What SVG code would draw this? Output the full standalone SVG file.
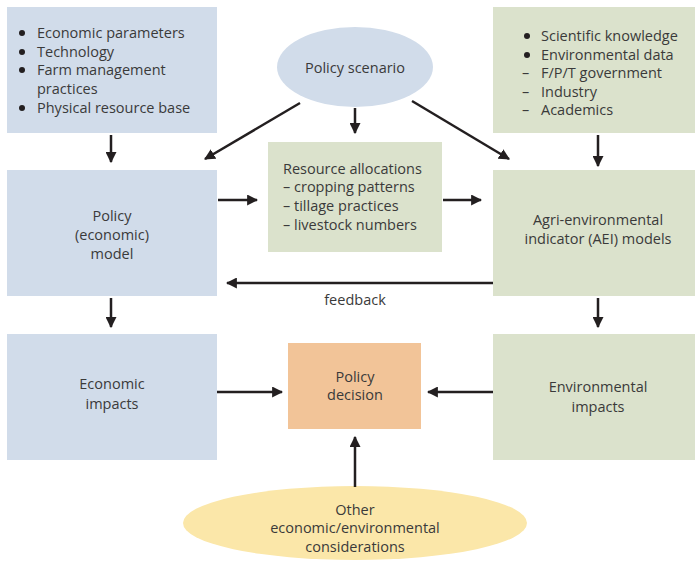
<svg xmlns="http://www.w3.org/2000/svg" width="695" height="562" viewBox="0 0 695 562">
<defs>
<style>
.blue{fill:#d1dcea}
.green{fill:#dbe2cc}
.t{font-family:"Open Sans","Liberation Sans",sans-serif;font-size:14.5px;fill:#3a3a3a}
.c{text-anchor:middle}
.ln{stroke:#231f20;stroke-width:2.5;fill:none;marker-end:url(#ah)}
</style>
<marker id="ah" viewBox="0 0 10 10" refX="9" refY="5" markerWidth="4.4" markerHeight="4.4" orient="auto" markerUnits="strokeWidth">
<path d="M0,0 L10,5 L0,10 z" fill="#231f20"/>
</marker>
</defs>
<rect width="695" height="562" fill="#ffffff"/>
<g id="inputs-econ">
<rect class="blue" x="7" y="7" width="210" height="126"/>
<g fill="#231f20"><circle cx="22" cy="33" r="3"/><circle cx="22" cy="52" r="3"/><circle cx="22" cy="70" r="3"/><circle cx="22" cy="108" r="3"/></g>
<text class="t" x="37" y="38">Economic parameters</text>
<text class="t" x="37" y="57">Technology</text>
<text class="t" x="37" y="75">Farm management</text>
<text class="t" x="37" y="94">practices</text>
<text class="t" x="37" y="113">Physical resource base</text>
</g>
<g id="policy-scenario">
<ellipse cx="355" cy="67" rx="78" ry="40" fill="#d1dcea"/>
<text class="t c" x="355" y="73">Policy scenario</text>
</g>
<g id="inputs-env">
<rect class="green" x="493" y="7" width="202" height="126"/>
<g fill="#231f20"><circle cx="527" cy="36" r="3"/><circle cx="527" cy="55" r="3"/></g>
<text class="t" x="541" y="41">Scientific knowledge</text>
<text class="t" x="541" y="60">Environmental data</text>
<text class="t" x="522" y="78">–</text>
<text class="t" x="541" y="78">F/P/T government</text>
<text class="t" x="522" y="97">–</text>
<text class="t" x="541" y="97">Industry</text>
<text class="t" x="522" y="115">–</text>
<text class="t" x="541" y="115">Academics</text>
</g>
<g id="policy-model">
<rect class="blue" x="7" y="170" width="210" height="126"/>
<text class="t c" x="112" y="221">Policy</text>
<text class="t c" x="112" y="240">(economic)</text>
<text class="t c" x="112" y="259">model</text>
</g>
<g id="resource-allocations">
<rect class="green" x="268" y="142" width="174" height="110"/>
<text class="t" x="283" y="174">Resource allocations</text>
<text class="t" x="283" y="192">– cropping patterns</text>
<text class="t" x="283" y="211">– tillage practices</text>
<text class="t" x="283" y="230">– livestock numbers</text>
</g>
<g id="aei-models">
<rect class="green" x="493" y="170" width="202" height="126"/>
<text class="t c" x="598" y="225">Agri-environmental</text>
<text class="t c" x="598" y="244">indicator (AEI) models</text>
</g>
<g id="economic-impacts">
<rect class="blue" x="7" y="334" width="210" height="126"/>
<text class="t c" x="112" y="389">Economic</text>
<text class="t c" x="112" y="409">impacts</text>
</g>
<g id="policy-decision">
<rect x="288" y="343" width="133" height="86" fill="#f2c498"/>
<text class="t c" x="355" y="382">Policy</text>
<text class="t c" x="355" y="400">decision</text>
</g>
<g id="environmental-impacts">
<rect class="green" x="493" y="334" width="202" height="126"/>
<text class="t c" x="598" y="392">Environmental</text>
<text class="t c" x="598" y="412">impacts</text>
</g>
<g id="other-considerations">
<ellipse cx="355" cy="523" rx="172" ry="37" fill="#fbe7a9"/>
<text class="t c" x="355" y="515">Other</text>
<text class="t c" x="355" y="533">economic/environmental</text>
<text class="t c" x="355" y="552">considerations</text>
</g>
<g id="connectors">
<line class="ln" x1="111" y1="135" x2="111" y2="162"/>
<line class="ln" x1="598" y1="135" x2="598" y2="166"/>
<line class="ln" x1="300" y1="103" x2="205" y2="159"/>
<line class="ln" x1="355" y1="108" x2="355" y2="133"/>
<line class="ln" x1="412" y1="101" x2="509" y2="159"/>
<line class="ln" x1="218" y1="200" x2="257" y2="200"/>
<line class="ln" x1="443" y1="200" x2="481" y2="200"/>
<line class="ln" x1="493" y1="283" x2="227" y2="283"/>
<line class="ln" x1="111" y1="298" x2="111" y2="327"/>
<line class="ln" x1="598" y1="298" x2="598" y2="327"/>
<line class="ln" x1="217" y1="392" x2="282" y2="392"/>
<line class="ln" x1="493" y1="392" x2="428" y2="392"/>
<line class="ln" x1="355" y1="487" x2="355" y2="437"/>
</g>
<text class="t c" x="355" y="305">feedback</text>
</svg>
